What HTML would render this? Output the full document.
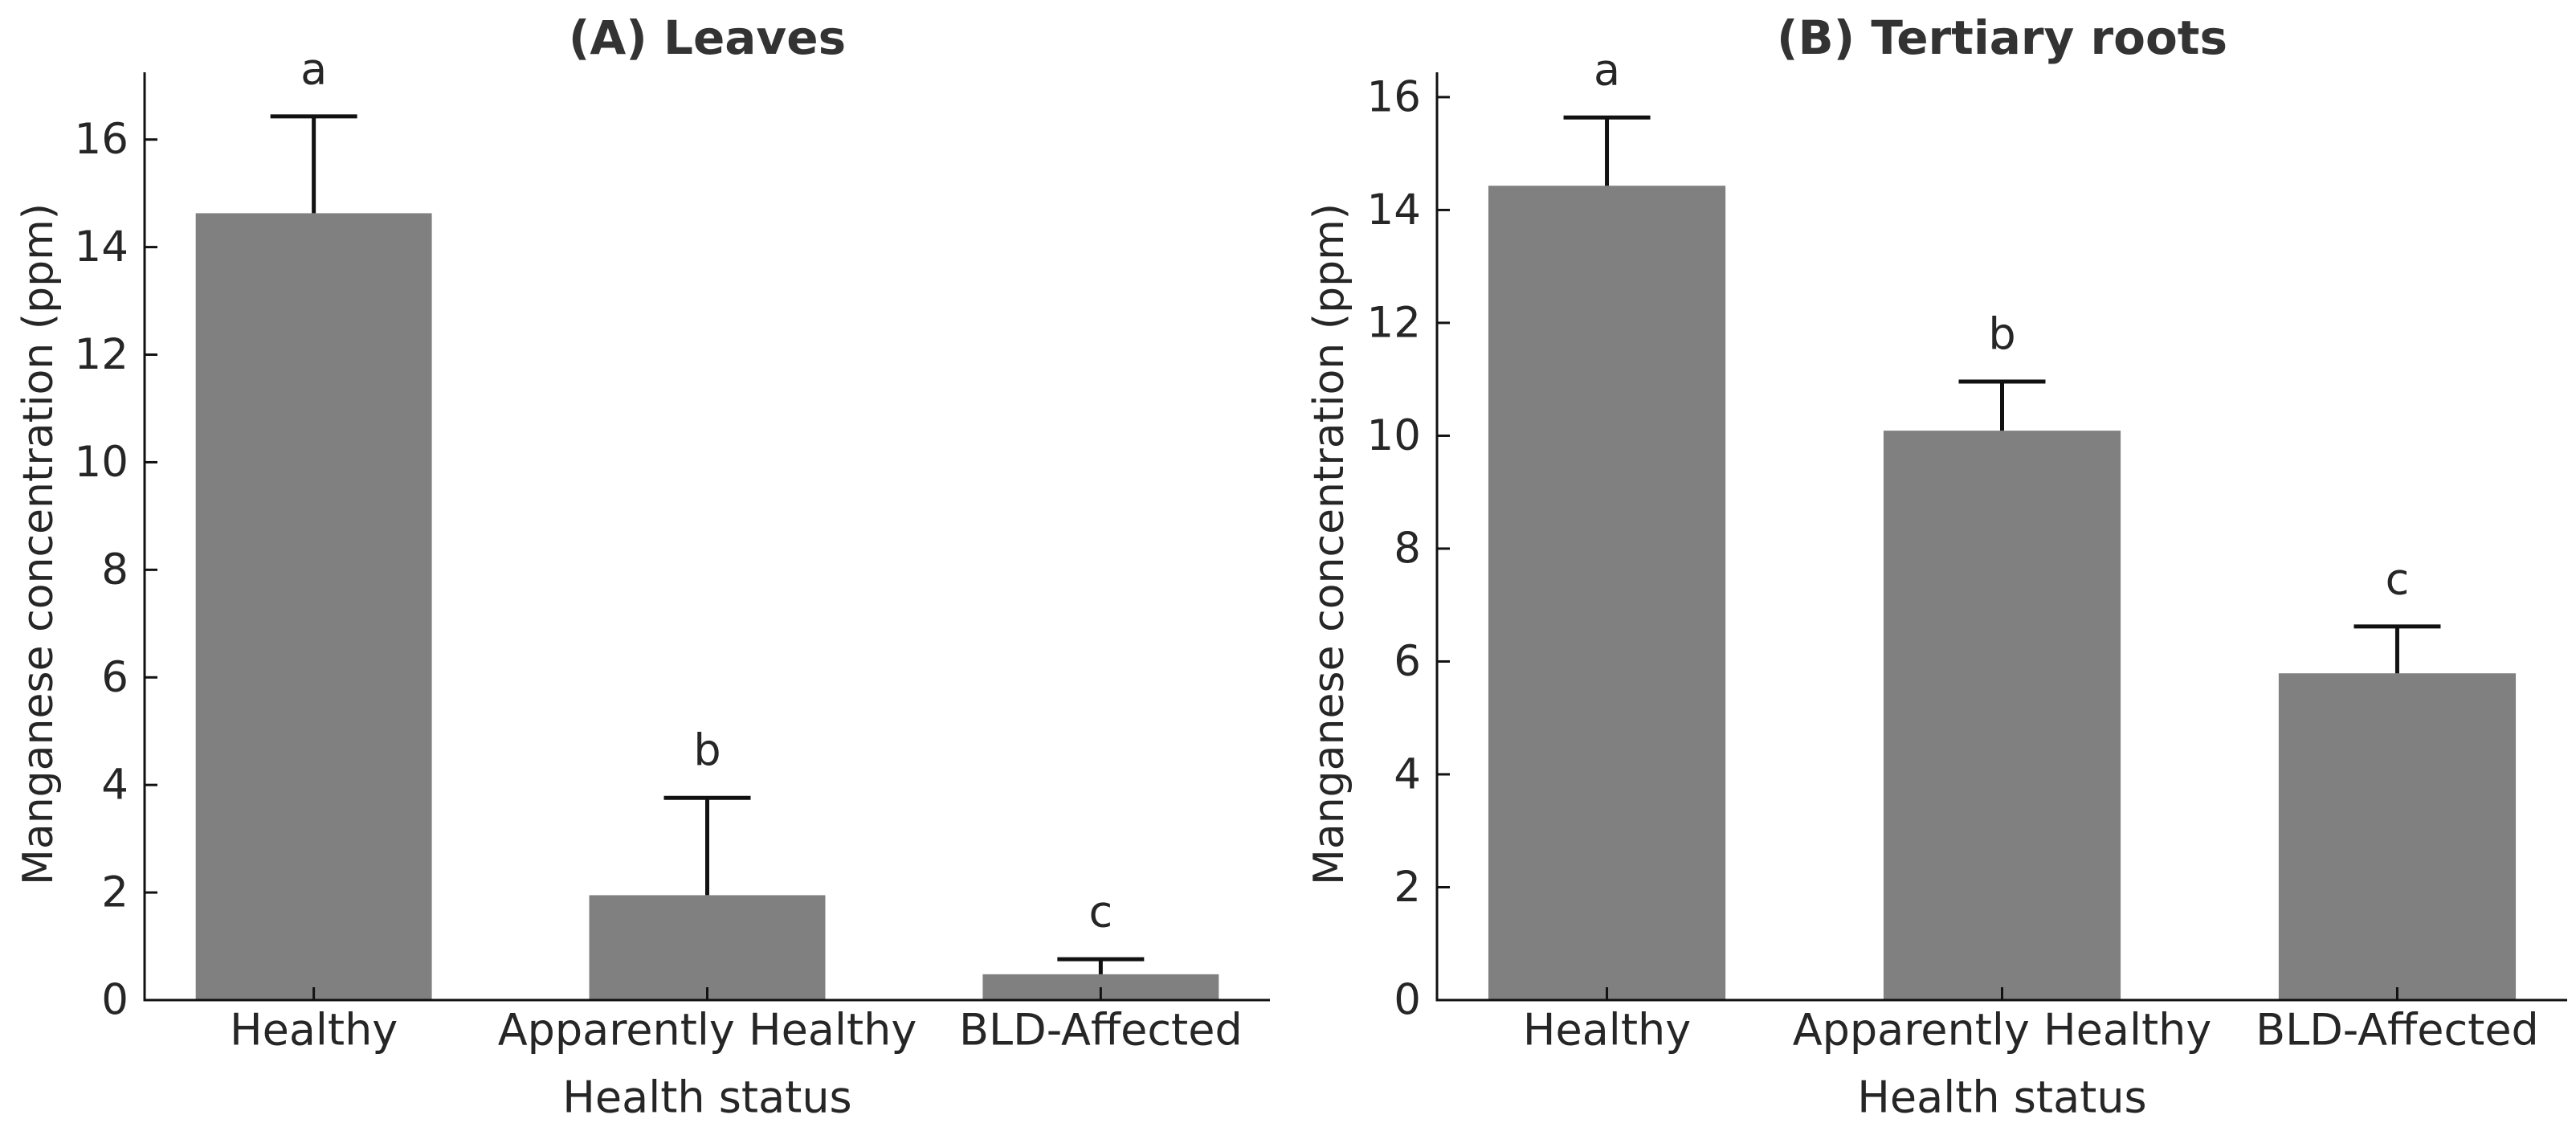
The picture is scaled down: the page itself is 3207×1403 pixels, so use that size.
<!DOCTYPE html>
<html><head><meta charset="utf-8">
<style>
html,body{margin:0;padding:0;background:#fff;}
svg{display:block;font-family:"DejaVu Sans","Liberation Sans",sans-serif;}
</style></head>
<body>
<svg id="chart" width="3207" height="1403" viewBox="0 0 3207 1403" xmlns="http://www.w3.org/2000/svg"></svg>
<script>
const categories = ["Healthy", "Apparently Healthy", "BLD-Affected"];
const leavesValues = [14.63, 1.95, 0.48];
const leavesErrors = [1.80, 1.81, 0.28];
const leavesLetters = ["a", "b", "c"];
const rootsValues = [14.43, 10.09, 5.79];
const rootsErrors = [1.21, 0.87, 0.83];
const rootsLetters = ["a", "b", "c"];
const leavesTicks = [0, 2, 4, 6, 8, 10, 12, 14, 16];
const rootsTicks = [0, 2, 4, 6, 8, 10, 12, 14, 16];

const NS = "http://www.w3.org/2000/svg";
const svg = document.getElementById("chart");
function mk(tag, attrs, parent) {
  const e = document.createElementNS(NS, tag);
  for (const k in attrs) e.setAttribute(k, attrs[k]);
  (parent || svg).appendChild(e);
  return e;
}
const TXT = "#262626";

function panel(cfg) {
  const g = mk("g", {});
  
  
  const x0 = cfg.left, x1 = cfg.right, yb = 1245, yt = 90;
  const y = v => yb - (v / cfg.ymax) * (yb - yt);
  const n = categories.length;
  const lo = -0.3 - 0.05 * (n - 1 + 0.6), hi = n - 1 + 0.3 + 0.05 * (n - 1 + 0.6);
  const x = i => x0 + (i - lo) / (hi - lo) * (x1 - x0);
  const bw = 0.6 / (hi - lo) * (x1 - x0);

  cfg.values.forEach((v, i) => {
    const r = mk("rect", {x: x(i) - bw / 2, y: y(v), width: bw, height: yb - y(v), fill: "#808080"}, g);
    
    
    const top = y(v + cfg.errors[i]);
    const el = mk("line", {x1: x(i), x2: x(i), y1: y(v), y2: top, stroke: "#111", "stroke-width": 5}, g);
    
    
    const cap = mk("line", {x1: x(i) - 54, x2: x(i) + 54, y1: top, y2: top, stroke: "#111", "stroke-width": 5}, g);
    
    
    const lt = mk("text", {x: x(i), y: top - 59, "font-size": 54, fill: TXT, "text-anchor": "middle", "dominant-baseline": "central"}, g);
    lt.textContent = cfg.letters[i];
    
    
    const tk = mk("line", {x1: x(i), x2: x(i), y1: yb, y2: yb - 16, stroke: "#111", "stroke-width": 3}, g);
    
    
    const cl = mk("text", {x: x(i), y: 1282, "font-size": 54, fill: TXT, "text-anchor": "middle", "dominant-baseline": "central"}, g);
    cl.textContent = categories[i];
    
    
  });
  cfg.ticks.forEach(t => {
    const tk = mk("line", {x1: x0, x2: x0 + 16, y1: y(t), y2: y(t), stroke: "#111", "stroke-width": 3}, g);
    
    
    const tl = mk("text", {x: x0 - 20, y: y(t), "font-size": 53, fill: TXT, "text-anchor": "end", "dominant-baseline": "central"}, g);
    tl.textContent = t;
    
    
  });
  const ya = mk("line", {x1: x0, x2: x0, y1: yt, y2: yb + 1.5, stroke: "#111", "stroke-width": 3}, g);
  
  
  const xa = mk("line", {x1: x0 - 1.5, x2: x1, y1: yb, y2: yb, stroke: "#111", "stroke-width": 3}, g);
  
  
  const ttl = mk("text", {x: (x0 + x1) / 2, y: 47, "font-size": 58, "font-weight": "bold", fill: "#333", "text-anchor": "middle", "dominant-baseline": "central"}, g);
  ttl.textContent = cfg.title;
  
  
  const xl = mk("text", {x: (x0 + x1) / 2, y: 1366, "font-size": 54, fill: TXT, "text-anchor": "middle", "dominant-baseline": "central"}, g);
  xl.textContent = "Health status";
  
  
  const yl = mk("text", {x: 0, y: 0, "font-size": 52, fill: TXT, "text-anchor": "middle", "dominant-baseline": "central", transform: `translate(${cfg.ylabelX},${(yt + yb) / 2 + 10}) rotate(-90)`}, g);
  yl.textContent = "Manganese concentration (ppm)";
  
  
}

panel({name: "panel-leaves", title: "(A) Leaves", left: 180, right: 1581, ymax: 17.25,
  values: leavesValues, errors: leavesErrors, letters: leavesLetters, ticks: leavesTicks, ylabelX: 48});
panel({name: "panel-tertiary-roots", title: "(B) Tertiary roots", left: 1789, right: 3196, ymax: 16.44,
  values: rootsValues, errors: rootsErrors, letters: rootsLetters, ticks: rootsTicks, ylabelX: 1655});
</script>
</body></html>
